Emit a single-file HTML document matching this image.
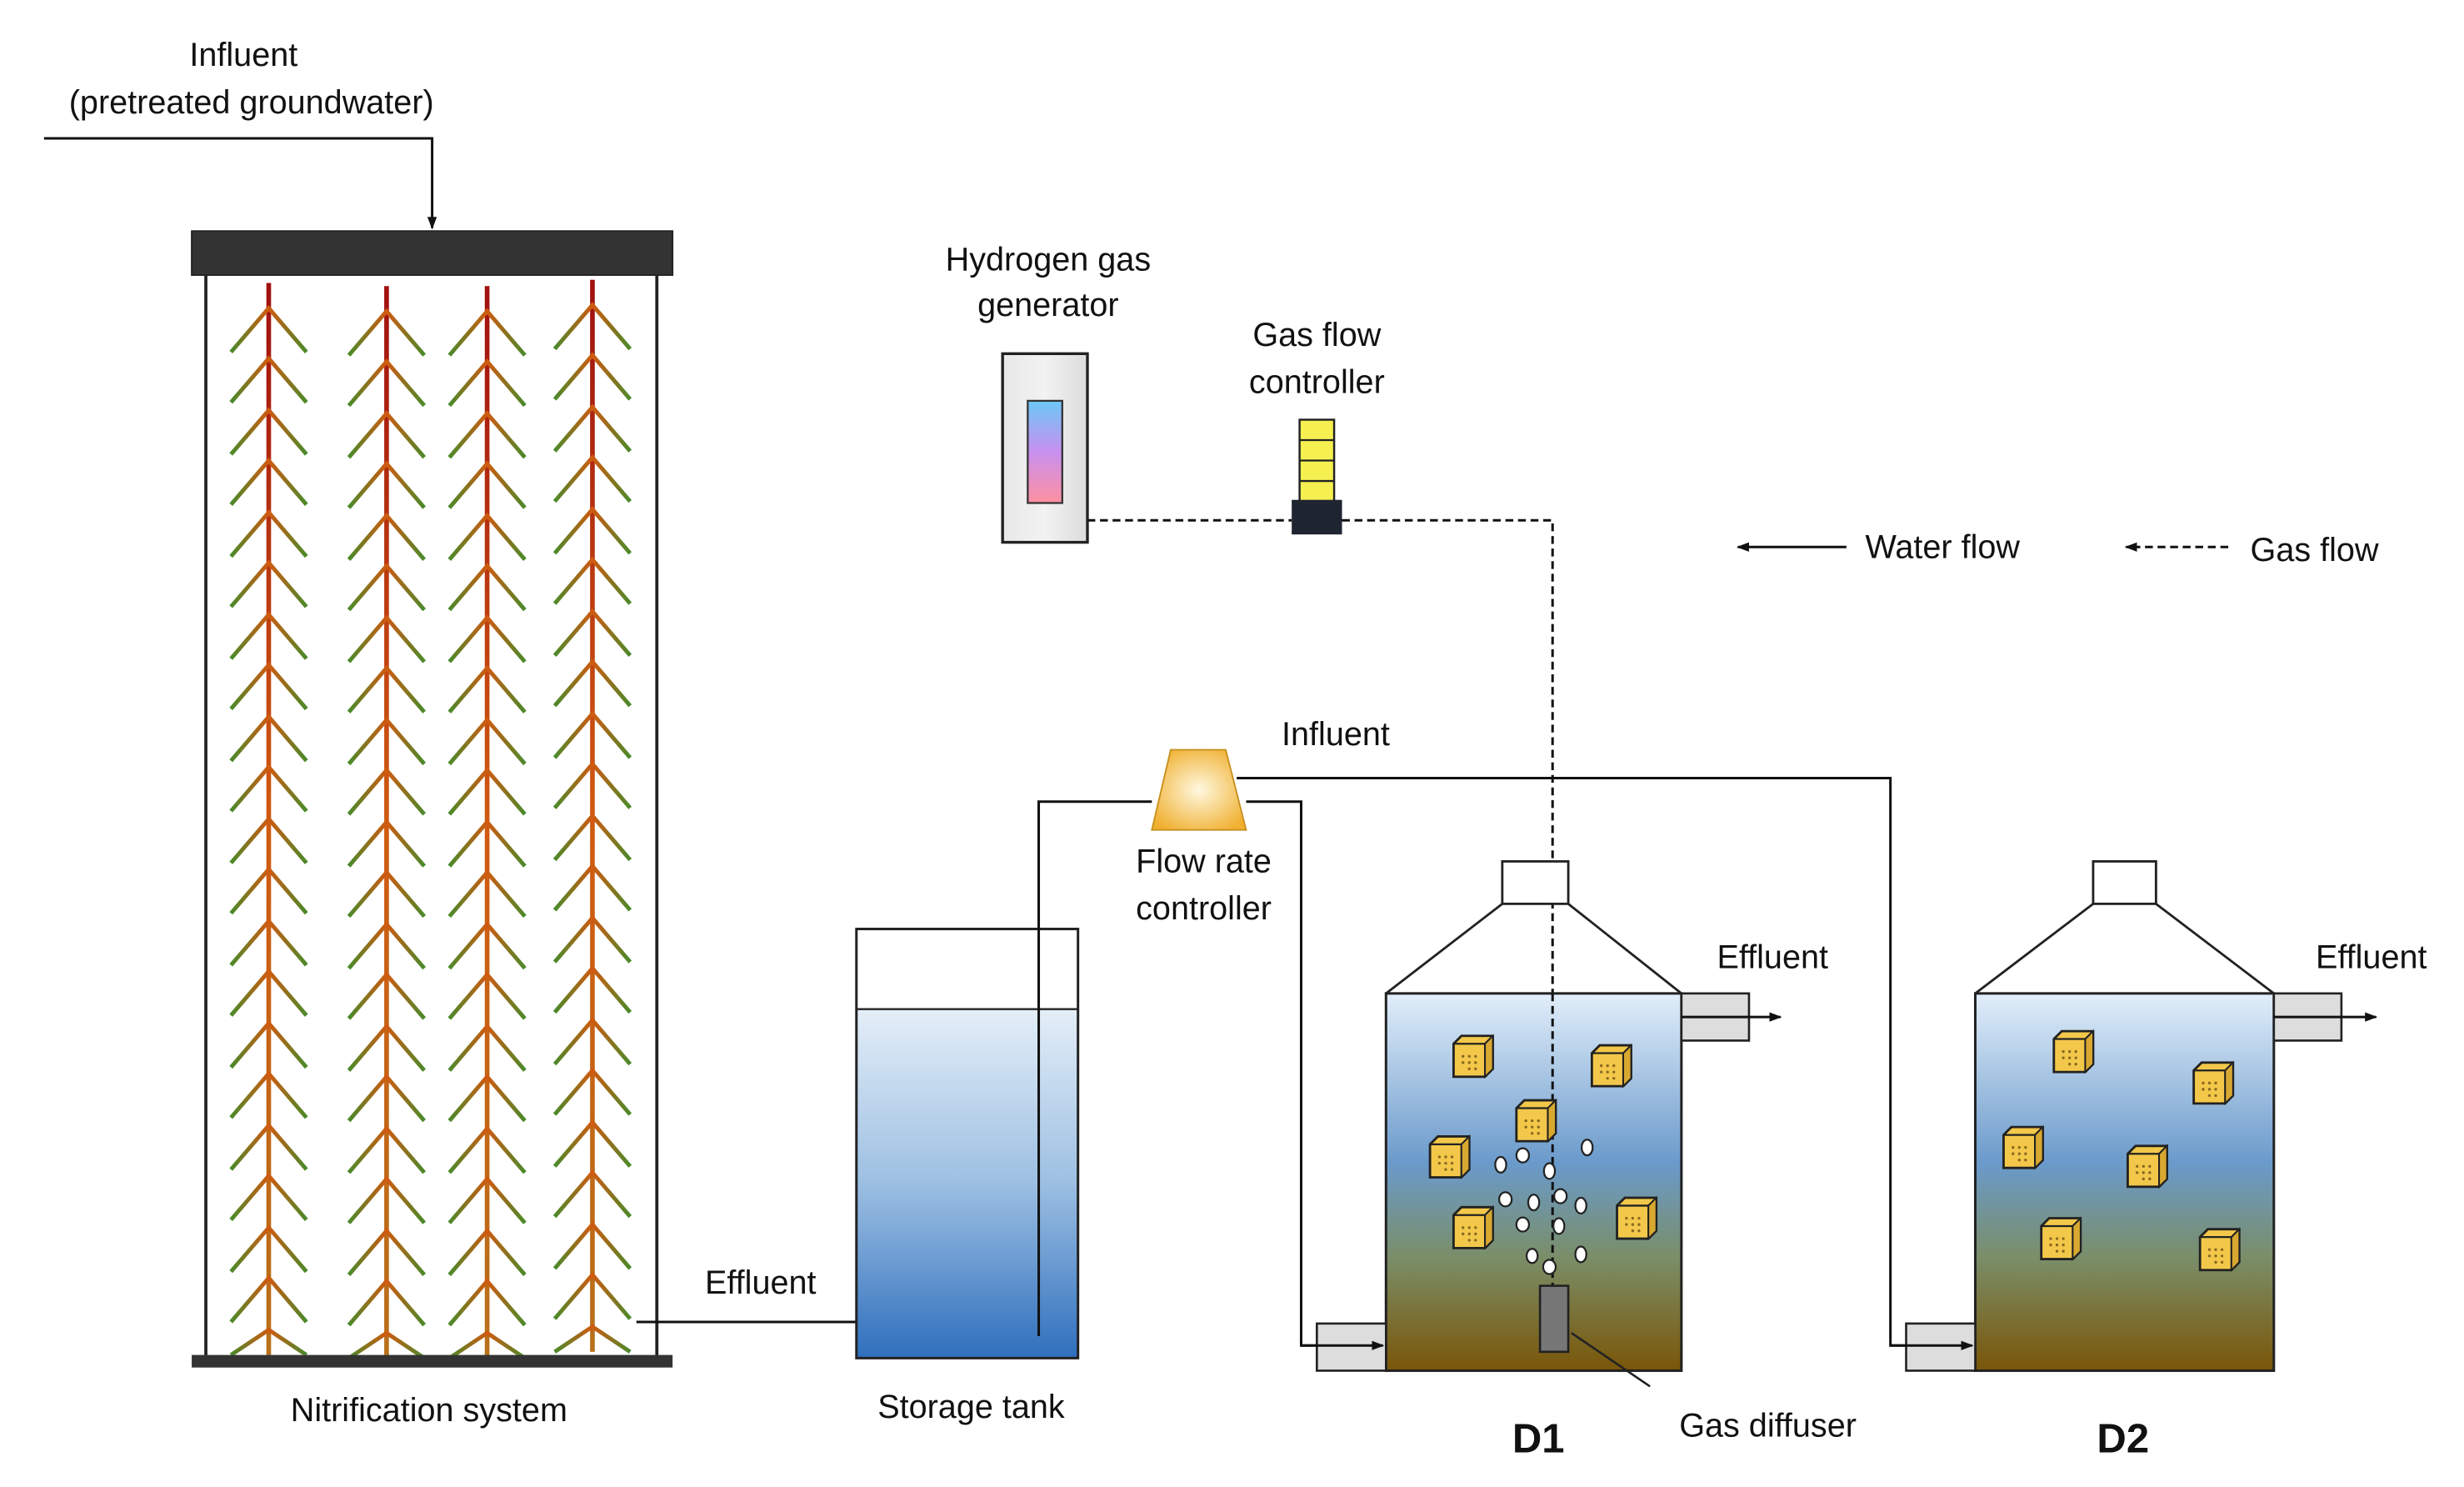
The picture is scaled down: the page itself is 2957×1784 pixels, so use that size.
<!DOCTYPE html>
<html><head><style>html,body{margin:0;padding:0;background:#fff;}svg{display:block;}text{font-family:"Liberation Sans",Arial,sans-serif;fill:#111;}</style></head>
<body>
<svg width="2957" height="1784" viewBox="0 0 1568 946" preserveAspectRatio="none" xmlns="http://www.w3.org/2000/svg">
<defs>
<linearGradient id="stem" gradientUnits="userSpaceOnUse" x1="0" y1="0" x2="0" y2="682"><stop offset="0" stop-color="#a01010"/><stop offset="0.5" stop-color="#d05a10"/><stop offset="1" stop-color="#b8701a"/></linearGradient>
<linearGradient id="br" x1="0" y1="0" x2="1" y2="0"><stop offset="0" stop-color="#4a8a2a"/><stop offset="0.5" stop-color="#d05a10"/><stop offset="1" stop-color="#4a8a2a"/></linearGradient>
<linearGradient id="gen" x1="0" y1="0" x2="1" y2="0"><stop offset="0" stop-color="#e8e8e8"/><stop offset="0.5" stop-color="#f2f2f2"/><stop offset="1" stop-color="#dcdcdc"/></linearGradient>
<linearGradient id="strip" x1="0" y1="0" x2="0" y2="1"><stop offset="0" stop-color="#6cc8f8"/><stop offset="0.5" stop-color="#c890f0"/><stop offset="1" stop-color="#ff90a0"/></linearGradient>
<radialGradient id="trap" cx="0.5" cy="0.5" r="0.6"><stop offset="0" stop-color="#fff8e0"/><stop offset="1" stop-color="#f0b030"/></radialGradient>
<linearGradient id="tank" x1="0" y1="0" x2="0" y2="1"><stop offset="0" stop-color="#e4eef8"/><stop offset="0.5" stop-color="#9cbfe2"/><stop offset="1" stop-color="#2f6fbd"/></linearGradient>
<linearGradient id="reac" x1="0" y1="0" x2="0" y2="1"><stop offset="0" stop-color="#e2eefa"/><stop offset="0.45" stop-color="#6a9acb"/><stop offset="0.7" stop-color="#7a8e68"/><stop offset="1" stop-color="#7a5608"/></linearGradient>
<marker id="ar" markerWidth="8" markerHeight="8" refX="7" refY="4" orient="auto" markerUnits="userSpaceOnUse"><path d="M0,1 L8,4 L0,7 z" fill="#111"/></marker>
<g id="tree">
<rect x="-1.5" y="0" width="3" height="682" fill="url(#stem)"/>
<path fill="none" stroke="url(#br)" stroke-width="2.6" d="M-24,44 L0,16 L24,44 M-24,76 L0,48 L24,76 M-24,109 L0,81 L24,109 M-24,141 L0,113 L24,141 M-24,174 L0,146 L24,174 M-24,206 L0,178 L24,206 M-24,239 L0,211 L24,239 M-24,271 L0,243 L24,271 M-24,304 L0,276 L24,304 M-24,336 L0,308 L24,336 M-24,369 L0,341 L24,369 M-24,401 L0,373 L24,401 M-24,434 L0,406 L24,434 M-24,466 L0,438 L24,466 M-24,499 L0,471 L24,499 M-24,531 L0,503 L24,531 M-24,564 L0,536 L24,564 M-24,596 L0,568 L24,596 M-24,629 L0,601 L24,629 M-24,661 L0,633 L24,661 M-24,682 L0,666 L24,682"/>
</g>
<g id="cube">
<path d="M-12,-8 L-7,-13 L13,-13 L13,8 L8,13 L-12,13 z" fill="#f3c84a" stroke="#222" stroke-width="1.5"/>
<path d="M-12,-8 L8,-8 L13,-13 M8,-8 L8,13" fill="none" stroke="#222" stroke-width="1.2"/>
<path d="M8,-8 L13,-13 L13,8 L8,13 z" fill="#d8a830" stroke="#222" stroke-width="1"/>
<g fill="#8a6a20"><circle cx="-6" cy="0" r="0.9"/><circle cx="-2" cy="0" r="0.9"/><circle cx="2" cy="0" r="0.9"/><circle cx="-6" cy="4" r="0.9"/><circle cx="-2" cy="4" r="0.9"/><circle cx="2" cy="4" r="0.9"/><circle cx="-2" cy="8" r="0.9"/><circle cx="2" cy="8" r="0.9"/></g>
</g>
</defs>

<text x="155" y="42" font-size="21" text-anchor="middle">Influent</text>
<text x="160" y="72" font-size="21" text-anchor="middle">(pretreated groundwater)</text>
<polyline points="28,88 275,88 275,145" fill="none" stroke="#111" stroke-width="1.6" marker-end="url(#ar)"/>
<line x1="131" y1="150" x2="131" y2="866" stroke="#222" stroke-width="2"/>
<line x1="418" y1="150" x2="418" y2="866" stroke="#222" stroke-width="2"/>
<rect x="122" y="147" width="306" height="28" fill="#333" stroke="#222"/>
<use href="#tree" x="171" y="180"/>
<use href="#tree" x="246" y="182"/>
<use href="#tree" x="310" y="182"/>
<use href="#tree" x="377" y="178"/>
<rect x="122" y="862" width="306" height="8" fill="#333"/>
<text x="273" y="904" font-size="21" text-anchor="middle">Nitrification system</text>
<line x1="405" y1="841" x2="565" y2="841" stroke="#111" stroke-width="1.6" marker-end="url(#ar)"/>
<text x="484" y="823" font-size="21" text-anchor="middle">Effluent</text>

<rect x="545" y="642" width="141" height="222" fill="url(#tank)"/>
<rect x="545" y="591" width="141" height="273" fill="none" stroke="#222" stroke-width="1.6"/>
<line x1="545" y1="642" x2="686" y2="642" stroke="#222" stroke-width="1.3"/>
<text x="618" y="902" font-size="21" text-anchor="middle">Storage tank</text>
<polyline points="661,850 661,510 733,510" fill="none" stroke="#111" stroke-width="1.6"/>

<polygon points="745,477 780,477 793,528 733,528" fill="url(#trap)" stroke="#c89020" stroke-width="1"/>
<text x="850" y="474" font-size="21" text-anchor="middle">Influent</text>
<text x="766" y="555" font-size="21" text-anchor="middle">Flow rate</text>
<text x="766" y="585" font-size="21" text-anchor="middle">controller</text>
<polyline points="793,510 828,510 828,856 880,856" fill="none" stroke="#111" stroke-width="1.6" marker-end="url(#ar)"/>
<polyline points="787,495 1203,495 1203,856 1255,856" fill="none" stroke="#111" stroke-width="1.6" marker-end="url(#ar)"/>

<text x="667" y="172" font-size="21" text-anchor="middle">Hydrogen gas</text>
<text x="667" y="201" font-size="21" text-anchor="middle">generator</text>
<rect x="638" y="225" width="54" height="120" fill="url(#gen)" stroke="#222" stroke-width="1.8"/>
<rect x="654" y="255" width="22" height="65" fill="url(#strip)" stroke="#333" stroke-width="1.2"/>
<text x="838" y="220" font-size="21" text-anchor="middle">Gas flow</text>
<text x="838" y="250" font-size="21" text-anchor="middle">controller</text>
<rect x="827" y="267" width="22" height="52" fill="#f5f050" stroke="#222" stroke-width="1.3"/>
<line x1="827" y1="280" x2="849" y2="280" stroke="#222" stroke-width="1.2"/>
<line x1="827" y1="293" x2="849" y2="293" stroke="#222" stroke-width="1.2"/>
<line x1="827" y1="306" x2="849" y2="306" stroke="#222" stroke-width="1.2"/>
<rect x="822" y="318" width="32" height="22" fill="#1e2430"/>
<line x1="692" y1="331" x2="822" y2="331" stroke="#111" stroke-width="1.6" stroke-dasharray="5,3"/>
<polyline points="854,331 988,331 988,818" fill="none" stroke="#111" stroke-width="1.6" stroke-dasharray="5,3"/>
<path d="M984,810 L988,818 L992,810 z" fill="#111"/>

<line x1="1175" y1="348" x2="1106" y2="348" stroke="#111" stroke-width="1.6" marker-end="url(#ar)"/>
<text x="1187" y="355" font-size="21">Water flow</text>
<line x1="1418" y1="348" x2="1353" y2="348" stroke="#111" stroke-width="1.6" stroke-dasharray="5,3" marker-end="url(#ar)"/>
<text x="1432" y="357" font-size="21">Gas flow</text>

<rect x="956" y="548" width="42" height="27" fill="#fff" stroke="#222" stroke-width="1.5"/>
<path d="M956,575 L882,632 M998,575 L1070,632" stroke="#222" stroke-width="1.5"/>
<rect x="882" y="632" width="188" height="240" fill="url(#reac)" stroke="#222" stroke-width="1.6"/>
<line x1="988" y1="632" x2="988" y2="818" stroke="#111" stroke-width="1.6" stroke-dasharray="5,3"/>
<rect x="1070" y="632" width="43" height="30" fill="#ddd" stroke="#222" stroke-width="1.4"/>
<line x1="1070" y1="647" x2="1133" y2="647" stroke="#111" stroke-width="1.6" marker-end="url(#ar)"/>
<text x="1128" y="616" font-size="21" text-anchor="middle">Effluent</text>
<rect x="838" y="842" width="44" height="30" fill="#ddd" stroke="#222" stroke-width="1.4"/>
<line x1="828" y1="856" x2="880" y2="856" stroke="#111" stroke-width="1.6" marker-end="url(#ar)"/>
<use href="#cube" x="937" y="672"/><use href="#cube" x="1025" y="678"/><use href="#cube" x="977" y="713"/>
<use href="#cube" x="922" y="736"/><use href="#cube" x="937" y="781"/><use href="#cube" x="1041" y="775"/>
<g fill="#fff" stroke="#222" stroke-width="1.2">
<ellipse cx="1010" cy="730" rx="3.5" ry="5"/><ellipse cx="969" cy="735" rx="4" ry="4.5"/><ellipse cx="955" cy="741" rx="3.5" ry="5"/>
<ellipse cx="986" cy="745" rx="3.5" ry="5"/><ellipse cx="958" cy="763" rx="4" ry="4.5"/><ellipse cx="976" cy="765" rx="3.5" ry="5"/>
<ellipse cx="993" cy="761" rx="4" ry="4.5"/><ellipse cx="1006" cy="767" rx="3.5" ry="5"/><ellipse cx="969" cy="779" rx="4" ry="4.5"/>
<ellipse cx="992" cy="780" rx="3.5" ry="5"/><ellipse cx="975" cy="799" rx="3.5" ry="4.5"/><ellipse cx="1006" cy="798" rx="3.5" ry="5"/>
<ellipse cx="986" cy="806" rx="4" ry="4.5"/>
</g>
<rect x="980" y="818" width="18" height="42" fill="#777" stroke="#222" stroke-width="1.4"/>
<line x1="1000" y1="848" x2="1050" y2="882" stroke="#222" stroke-width="1.4"/>
<text x="1125" y="914" font-size="21" text-anchor="middle">Gas diffuser</text>
<text x="979" y="924" font-size="26" font-weight="bold" text-anchor="middle">D1</text>

<rect x="1332" y="548" width="40" height="27" fill="#fff" stroke="#222" stroke-width="1.5"/>
<path d="M1332,575 L1257,632 M1372,575 L1447,632" stroke="#222" stroke-width="1.5"/>
<rect x="1257" y="632" width="190" height="240" fill="url(#reac)" stroke="#222" stroke-width="1.6"/>
<rect x="1447" y="632" width="43" height="30" fill="#ddd" stroke="#222" stroke-width="1.4"/>
<line x1="1447" y1="647" x2="1512" y2="647" stroke="#111" stroke-width="1.6" marker-end="url(#ar)"/>
<text x="1509" y="616" font-size="21" text-anchor="middle">Effluent</text>
<rect x="1213" y="842" width="44" height="30" fill="#ddd" stroke="#222" stroke-width="1.4"/>
<line x1="1203" y1="856" x2="1255" y2="856" stroke="#111" stroke-width="1.6" marker-end="url(#ar)"/>
<use href="#cube" x="1319" y="669"/><use href="#cube" x="1408" y="689"/><use href="#cube" x="1287" y="730"/>
<use href="#cube" x="1366" y="742"/><use href="#cube" x="1311" y="788"/><use href="#cube" x="1412" y="795"/>
<text x="1351" y="924" font-size="26" font-weight="bold" text-anchor="middle">D2</text>
</svg>
</body></html>
